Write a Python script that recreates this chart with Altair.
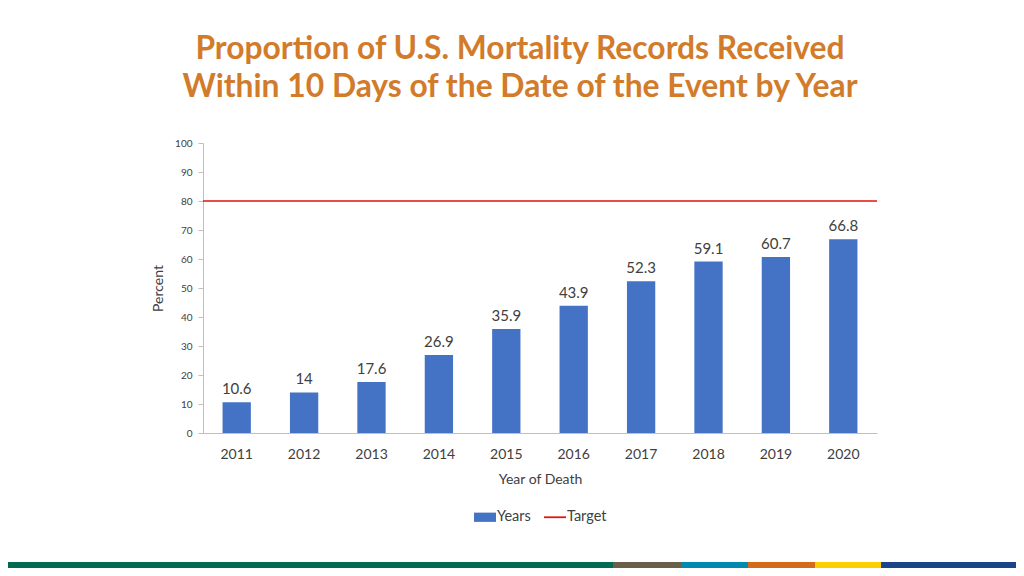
import altair as alt
import pandas as pd

years = ["2011", "2012", "2013", "2014", "2015", "2016", "2017", "2018", "2019", "2020"]
values = [10.6, 14, 17.6, 26.9, 35.9, 43.9, 52.3, 59.1, 60.7, 66.8]
value_labels = ["10.6", "14", "17.6", "26.9", "35.9", "43.9", "52.3", "59.1", "60.7", "66.8"]
target = [80]
y_ticks = [0, 10, 20, 30, 40, 50, 60, 70, 80, 90, 100]
legend_items = ["Years", "Target"]
legend_colors = ["#4472C4", "#E3120B"]
strip_start = [0, 613, 681, 748, 815, 881]
strip_end = [613, 681, 748, 815, 881, 1024]
strip_colors = ["#006A53", "#6B5E4B", "#008AB0", "#D36B1C", "#FDCF00", "#1C4587"]

FONT = "Lato"
TXT = "#404040"

bars_df = pd.DataFrame({"year": years, "value": values, "label": value_labels})
target_df = pd.DataFrame({"target": target})
legend_df = pd.DataFrame({"series": legend_items})
strip_df = pd.DataFrame({"s": strip_start, "e": strip_end, "c": strip_colors})

xscale = alt.Scale(domain=years, paddingInner=0.58, paddingOuter=0.29)
yscale = alt.Scale(domain=[0, 100], nice=False)

xaxis = alt.Axis(title="Year of Death", labelAngle=0, labelFontSize=14,
                 labelColor=TXT, labelFont=FONT, ticks=False, labelPadding=14,
                 domainColor="#BFBFBF", titleFontSize=14, titleFont=FONT,
                 titleFontWeight="normal", titleColor=TXT, titlePadding=11)
yaxis = alt.Axis(title="Percent", values=y_ticks, tickCount=20, grid=False,
                 labelOverlap=False, labelFontSize=10, labelColor=TXT, labelFont=FONT,
                 tickColor="#BFBFBF", domainColor="#BFBFBF", tickSize=5,
                 labelPadding=6, titleFontSize=14, titleFont=FONT,
                 titleFontWeight="normal", titleColor=TXT, titlePadding=9)

bars = alt.Chart(bars_df).mark_bar(color="#4472C4").encode(
    x=alt.X("year:N", scale=xscale, sort=years, axis=xaxis),
    y=alt.Y("value:Q", scale=yscale, axis=yaxis),
)

texts = alt.Chart(bars_df).mark_text(dy=-13, fontSize=15, font=FONT, color=TXT).encode(
    x=alt.X("year:N", scale=xscale, sort=years, axis=None),
    y=alt.Y("value:Q", scale=yscale),
    text="label:N",
)

rule = alt.Chart(target_df).mark_rule(color="#E3120B", strokeWidth=1.5).encode(
    y=alt.Y("target:Q", scale=yscale),
)

leg = alt.Legend(title=None, orient="none", direction="horizontal",
                 legendX=271, legendY=363, labelFontSize=14.5,
                 labelFont=FONT, labelColor=TXT, symbolOpacity=1, symbolSize=484,
                 columnPadding=13, labelOffset=1, symbolStrokeWidth=0)

legend_layer = alt.Chart(legend_df).mark_point(filled=True, opacity=0).encode(
    color=alt.Color("series:N", title=None,
                    scale=alt.Scale(domain=legend_items, range=legend_colors), legend=leg),
    shape=alt.Shape("series:N", title=None, scale=alt.Scale(domain=legend_items,
                    range=["M-1,-0.42H1V0.42H-1Z", "M-1,-0.08H1V0.08H-1Z"]), legend=leg),
    size=alt.value(484),
)

strip = alt.Chart(strip_df).mark_rect().encode(
    x=alt.X("s:Q", scale=alt.Scale(domain=[0, 1024], range=[-203, 821]), axis=None),
    x2="e:Q",
    y=alt.value(419),
    y2=alt.value(425),
    color=alt.Color("c:N", scale=None),
)

chart = alt.layer(bars, texts, rule, legend_layer, strip).resolve_scale(
    x="independent"
).properties(
    width=674, height=290,
    autosize=alt.AutoSizeParams(type="none"),
    padding={"left": 195, "top": 135, "right": 139, "bottom": 135},
    title=alt.Title(["Proportion of U.S. Mortality Records Received",
                     "Within 10 Days of the Date of the Event by Year"],
                    fontSize=31.8, font=FONT, fontWeight="bold", color="#D27B2A",
                    anchor="middle", dx=-20, offset=34, lineHeight=38),
).configure_view(stroke=None)

chart.save("out.html", embed_options={"renderer": "svg", "actions": False})
